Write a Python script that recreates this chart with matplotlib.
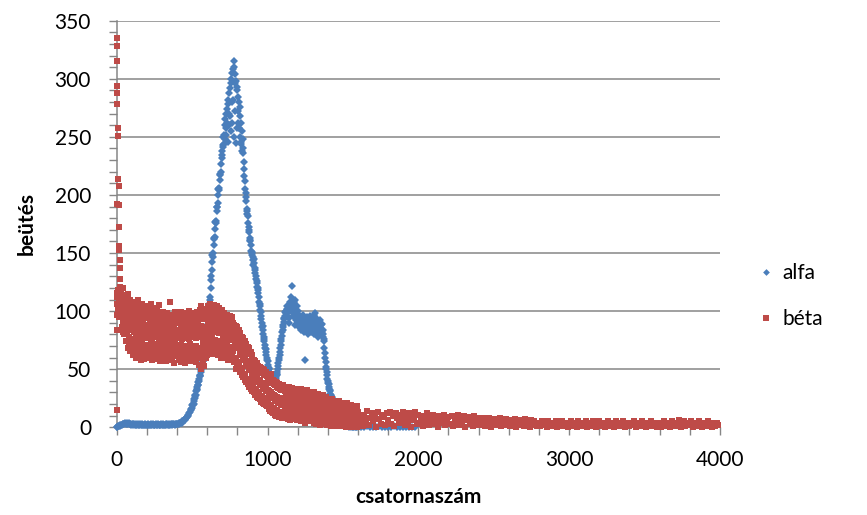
import matplotlib
matplotlib.use("Agg")
import matplotlib.pyplot as plt
import numpy as np
from matplotlib.ticker import MultipleLocator

# alfa counts, channels 0..1595 in steps of 5 (one row = 100 channels)
ALFA_FINE = [
    0, 0, 1, 1, 1, 2, 2, 2, 3, 3, 3, 4, 3, 4, 3, 3, 4, 3, 3, 2,
    3, 2, 3, 3, 2, 3, 2, 2, 3, 2, 2, 3, 2, 2, 3, 2, 2, 2, 3, 2,
    2, 3, 2, 2, 2, 3, 2, 2, 3, 2, 2, 2, 3, 2, 2, 3, 2, 2, 2, 3,
    2, 2, 3, 2, 2, 3, 2, 3, 2, 2, 3, 2, 3, 3, 2, 3, 3, 2, 3, 3,
    3, 3, 4, 3, 4, 4, 5, 4, 5, 6, 6, 7, 8, 9, 10, 11, 12, 13, 15, 16,
    17, 20, 20, 24, 27, 28, 32, 35, 36, 40, 44, 45, 49, 53, 54, 57, 61, 63, 69, 74,
    80, 89, 94, 106, 112, 127, 135, 148, 150, 162, 164, 177, 178, 190, 193, 205, 206, 218, 220, 232,
    238, 241, 252, 248, 265, 258, 274, 246, 282, 270, 292, 255, 300, 280, 308, 315, 250, 304, 245, 293,
    290, 262, 280, 250, 268, 244, 255, 240, 236, 222, 212, 198, 195, 184, 182, 172, 168, 160, 157, 148,
    151, 144, 145, 137, 135, 128, 124, 120, 118, 108, 104, 99, 93, 86, 84, 78, 74, 68, 65, 60,
    57, 52, 50, 47, 46, 43, 44, 40, 41, 38, 40, 42, 45, 48, 53, 58, 62, 68, 74, 79,
    84, 88, 93, 96, 100, 98, 104, 95, 102, 90, 106, 112, 100, 122, 96, 108, 88, 110, 94, 104,
    92, 100, 86, 96, 84, 94, 88, 97, 82, 92, 58, 90, 84, 95, 80, 90, 86, 96, 82, 93,
    86, 97, 80, 98, 88, 84, 93, 78, 90, 85, 92, 80, 89, 84, 78, 74, 64, 56, 50, 45,
    40, 37, 33, 31, 28, 26, 24, 22, 20, 16, 13, 11, 9, 7, 6, 5, 4, 3, 3, 2,
    2, 2, 1, 2, 1, 1, 1, 1, 0, 1, 1, 0, 1, 0, 0, 1, 0, 0, 1, 0,
]
# alfa counts in between, channels 502..1497 in steps of 5 (the busy part)
ALFA_BETWEEN = [
    19, 19, 23, 25, 28, 31, 33, 36, 39, 42, 44, 48, 50, 54, 57, 59, 62, 67, 72, 78,
    85, 92, 100, 110, 120, 130, 142, 147, 157, 163, 171, 176, 186, 190, 200, 204, 213, 217, 227, 234,
    243, 250, 244, 260, 252, 270, 262, 278, 260, 288, 268, 296, 262, 305, 282, 310, 296, 272, 298, 258,
    284, 272, 258, 276, 246, 262, 238, 248, 228, 216, 205, 202, 188, 186, 176, 170, 163, 161, 152, 150,
    147, 140, 141, 133, 130, 126, 121, 116, 112, 106, 101, 96, 90, 87, 80, 76, 71, 67, 62, 58,
    54, 51, 48, 47, 44, 42, 41, 39, 39, 39, 41, 43, 46, 50, 55, 60, 65, 71, 76, 82,
    86, 91, 94, 99, 96, 102, 98, 101, 94, 100, 108, 104, 106, 100, 104, 96, 104, 92, 100, 96,
    97, 90, 92, 88, 90, 86, 94, 86, 90, 84, 88, 85, 92, 86, 88, 84, 92, 86, 90, 88,
    92, 86, 94, 90, 82, 90, 84, 88, 82, 90, 84, 88, 82, 80, 76, 68, 60, 52, 48, 42,
    38, 35, 32, 29, 27, 25, 23, 21, 18, 14, 12, 10, 8, 6, 5, 4, 3, 3, 2, 2,
]
# alfa counts, channels 1600..1980 in steps of 20
ALFA_TAIL = [1, 0, 0, 1, 0, 0, 0, 1, 0, 0, 0, 0, 1, 0, 0, 0, 0, 0, 0, 0]

# béta: the very first channels, far above the rest
BETA_SPIKE_CH = [2, 3, 4, 2, 5, 4, 6, 8, 10, 12, 1, 14, 15, 16, 18, 19, 20, 22, 23, 25, 27, 0, 1]
BETA_SPIKE = [335, 328, 315, 294, 288, 278, 258, 251, 214, 208, 192, 191, 172, 156, 153,
              144, 137, 128, 121, 117, 105, 84, 15]

# béta counts, channels 0..1595 in steps of 5, read as three strips of the
# scatter band: upper (A, ch 0,5,..), middle (B, ch 2,7,..), lower (C, ch 4,9,..)
BETA_A = [
    116, 112, 118, 110, 114, 108, 118, 106, 114, 120, 104, 110, 112, 102, 108, 115, 98, 106, 110, 100,
    104, 98, 108, 100, 96, 106, 102, 95, 110, 99, 103, 94, 100, 97, 106, 92, 98, 104, 95, 101,
    100, 94, 104, 97, 92, 99, 106, 95, 101, 93, 98, 103, 91, 96, 100, 94, 105, 92, 98, 97,
    96, 92, 99, 94, 90, 97, 93, 98, 91, 95, 89, 108, 94, 97, 92, 96, 90, 99, 93, 95,
    94, 97, 90, 96, 92, 99, 89, 95, 93, 98, 91, 96, 90, 94, 97, 92, 100, 89, 95, 93,
    95, 92, 98, 94, 90, 97, 93, 99, 91, 96, 101, 95, 104, 98, 93, 100, 96, 102, 94, 99,
    100, 104, 97, 102, 106, 99, 103, 96, 101, 105, 98, 102, 95, 104, 100, 97, 103, 99, 94, 101,
    96, 92, 98, 90, 95, 93, 97, 91, 94, 89, 96, 92, 88, 95, 90, 86, 88, 84, 87, 83,
    86, 82, 84, 79, 81, 76, 78, 74, 77, 72, 74, 70, 72, 67, 69, 65, 68, 63, 65, 62,
    60, 56, 58, 54, 57, 52, 55, 50, 53, 49, 52, 48, 51, 47, 50, 46, 49, 45, 48, 44,
    44, 40, 43, 38, 42, 46, 39, 41, 37, 40, 36, 39, 35, 38, 34, 37, 33, 36, 32, 35,
    36, 32, 35, 31, 34, 30, 33, 29, 35, 31, 32, 28, 34, 30, 31, 27, 33, 29, 30, 28,
    32, 28, 31, 27, 30, 33, 26, 29, 31, 27, 30, 25, 29, 32, 26, 28, 30, 25, 29, 27,
    29, 26, 30, 25, 28, 27, 24, 29, 26, 28, 25, 27, 23, 26, 28, 24, 25, 22, 26, 23,
    24, 21, 23, 20, 22, 19, 24, 21, 20, 23, 19, 22, 20, 18, 21, 23, 19, 20, 18, 21,
    20, 17, 19, 16, 18, 21, 15, 19, 17, 18, 16, 19, 15, 17, 18, 14, 17, 16, 15, 18,
]
BETA_B = [
    106, 102, 109, 104, 100, 107, 96, 104, 92, 100, 98, 94, 92, 86, 96, 90, 84, 94, 88, 91,
    86, 90, 82, 88, 84, 79, 91, 85, 80, 87, 83, 89, 78, 86, 81, 90, 84, 77, 88, 82,
    84, 88, 79, 86, 82, 90, 77, 85, 81, 87, 83, 78, 89, 80, 86, 84, 76, 88, 82, 85,
    82, 78, 85, 80, 86, 77, 83, 79, 84, 81, 76, 85, 80, 82, 78, 87, 81, 75, 83, 79,
    80, 84, 77, 82, 79, 86, 76, 83, 81, 78, 85, 80, 77, 84, 79, 82, 76, 86, 80, 83,
    81, 78, 85, 79, 83, 77, 86, 80, 82, 78, 84, 79, 87, 81, 76, 85, 80, 83, 78, 86,
    86, 90, 83, 88, 85, 92, 80, 87, 84, 89, 82, 91, 86, 83, 88, 81, 90, 85, 87, 82,
    82, 79, 85, 77, 83, 80, 86, 78, 81, 84, 76, 82, 79, 75, 83, 78, 74, 72, 76, 70,
    72, 68, 70, 65, 67, 62, 64, 60, 62, 58, 60, 56, 57, 53, 55, 51, 53, 49, 50, 47,
    48, 44, 46, 42, 45, 40, 43, 39, 41, 37, 40, 36, 38, 35, 37, 33, 36, 32, 34, 31,
    32, 28, 31, 26, 30, 27, 29, 25, 28, 24, 27, 23, 26, 22, 25, 21, 24, 20, 23, 19,
    25, 22, 24, 20, 23, 26, 21, 24, 19, 22, 25, 20, 23, 18, 22, 24, 19, 21, 17, 20,
    21, 18, 23, 17, 20, 22, 16, 19, 21, 15, 20, 18, 22, 16, 19, 21, 15, 18, 20, 17,
    18, 15, 20, 14, 17, 19, 13, 16, 18, 12, 17, 15, 19, 13, 16, 14, 18, 12, 15, 14,
    14, 11, 15, 10, 13, 16, 9, 12, 14, 11, 13, 10, 15, 9, 12, 14, 10, 13, 11, 12,
    11, 9, 12, 8, 10, 13, 7, 11, 9, 12, 8, 10, 13, 7, 11, 9, 12, 8, 10, 11,
]
BETA_C = [
    97, 99, 95, 100, 96, 98, 86, 82, 88, 80, 90, 84, 74, 80, 68, 78, 72, 66, 76, 70,
    68, 62, 72, 65, 70, 60, 74, 64, 69, 63, 71, 58, 66, 73, 61, 67, 59, 70, 64, 68,
    66, 71, 60, 68, 63, 73, 58, 65, 70, 62, 67, 72, 59, 64, 69, 61, 74, 57, 66, 63,
    64, 70, 60, 67, 57, 72, 63, 68, 58, 66, 71, 62, 65, 59, 69, 55, 64, 70, 61, 67,
    62, 68, 58, 65, 71, 56, 64, 69, 60, 66, 55, 63, 70, 59, 67, 61, 72, 57, 65, 62,
    63, 58, 67, 61, 70, 56, 64, 60, 68, 54, 62, 50, 66, 58, 71, 53, 64, 60, 68, 62,
    70, 66, 74, 64, 72, 68, 76, 63, 71, 67, 75, 65, 73, 69, 62, 72, 66, 74, 60, 68,
    66, 62, 70, 60, 68, 64, 72, 58, 65, 69, 61, 67, 63, 59, 66, 56, 60, 50, 57, 53,
    56, 50, 54, 48, 51, 45, 49, 43, 46, 41, 44, 39, 42, 37, 40, 35, 38, 33, 36, 31,
    34, 30, 33, 28, 31, 26, 30, 25, 28, 24, 27, 22, 26, 21, 25, 20, 24, 19, 23, 18,
    20, 16, 19, 14, 18, 13, 17, 12, 16, 11, 15, 10, 14, 12, 13, 9, 12, 10, 11, 8,
    12, 9, 14, 8, 11, 15, 7, 13, 10, 6, 12, 9, 14, 8, 11, 7, 13, 10, 6, 12,
    10, 6, 12, 5, 9, 11, 7, 13, 8, 4, 10, 6, 12, 7, 9, 5, 11, 8, 6, 10,
    8, 4, 10, 3, 7, 9, 5, 11, 6, 2, 8, 5, 9, 3, 7, 4, 10, 6, 2, 8,
    5, 2, 7, 1, 4, 6, 3, 8, 2, 5, 1, 6, 3, 7, 2, 4, 1, 5, 3, 6,
    4, 1, 5, 0, 3, 6, 2, 4, 1, 5, 0, 3, 6, 2, 4, 1, 5, 3, 0, 2,
]
# béta counts, channels 1600..3990 in steps of 10 (one row = 200 channels)
BETA_TAIL = [
    13, 4, 9, 1, 11, 6, 14, 2, 8, 12, 5, 10, 0, 13, 7, 3, 11, 9, 2, 12,
    6, 13, 3, 10, 1, 12, 8, 4, 11, 7, 13, 2, 9, 5, 12, 0, 10, 6, 13, 3,
    11, 4, 8, 1, 10, 6, 12, 2, 9, 5, 11, 3, 7, 0, 10, 4, 8, 11, 2, 6,
    9, 3, 10, 1, 7, 5, 11, 2, 8, 4, 10, 0, 6, 9, 3, 7, 1, 10, 5, 8,
    2, 7, 4, 8, 1, 6, 3, 8, 0, 5, 7, 2, 6, 4, 8, 1, 5, 3, 7, 2,
    6, 1, 5, 3, 7, 0, 4, 6, 2, 5, 1, 7, 3, 4, 0, 6, 2, 5, 3, 1,
    4, 1, 5, 2, 3, 0, 5, 2, 4, 1, 3, 5, 0, 4, 2, 5, 1, 3, 4, 0,
    3, 5, 1, 4, 2, 0, 5, 3, 1, 4, 2, 5, 0, 3, 4, 1, 5, 2, 0, 3,
    5, 1, 3, 4, 0, 2, 5, 1, 4, 3, 0, 5, 2, 4, 1, 3, 5, 0, 2, 4,
    1, 4, 2, 5, 0, 3, 4, 1, 5, 2, 3, 0, 4, 2, 5, 1, 3, 4, 0, 2,
    4, 0, 3, 5, 1, 2, 4, 0, 5, 3, 1, 4, 2, 6, 0, 3, 5, 1, 2, 4,
    2, 5, 0, 3, 4, 1, 5, 2, 0, 4, 3, 1, 5, 2, 4, 0, 3, 1, 4, 2,
]

X_MAX = 4000
Y_MAX = 350
ALFA_COLOR = "#4A7EBB"
BETA_COLOR = "#BE4B48"
AXIS_GRAY = "#868686"


def channels(start: int, step: int, n: int) -> np.ndarray:
    return start + step * np.arange(n)


def main() -> None:
    plt.rcParams["font.family"] = ["Lato", "DejaVu Sans"]

    alfa_x = np.concatenate([channels(0, 5, len(ALFA_FINE)),
                             channels(502, 5, len(ALFA_BETWEEN)),
                             channels(1600, 20, len(ALFA_TAIL))])
    alfa_y = np.array(ALFA_FINE + ALFA_BETWEEN + ALFA_TAIL, dtype=float)

    beta_x = np.concatenate([np.array(BETA_SPIKE_CH),
                             channels(0, 5, len(BETA_A)),
                             channels(2, 5, len(BETA_B)),
                             channels(4, 5, len(BETA_C)),
                             channels(1600, 10, len(BETA_TAIL))])
    beta_y = np.array(BETA_SPIKE + BETA_A + BETA_B + BETA_C + BETA_TAIL, dtype=float)

    fig = plt.figure(figsize=(8.67, 5.15), dpi=100)
    ax = fig.add_axes([0.1346, 0.1703, 0.6958, 0.7895])

    ax.plot(alfa_x, alfa_y, linestyle="none", marker="D", markersize=3.8,
            markeredgewidth=0, color=ALFA_COLOR, label="alfa", clip_on=False, zorder=3)
    ax.plot(beta_x, beta_y, linestyle="none", marker="s", markersize=4.9,
            markeredgewidth=0, color=BETA_COLOR, label="béta", clip_on=False, zorder=4)

    ax.set_xlim(0, X_MAX)
    ax.set_ylim(0, Y_MAX)
    ax.xaxis.set_major_locator(MultipleLocator(1000))
    ax.xaxis.set_minor_locator(MultipleLocator(200))
    ax.yaxis.set_major_locator(MultipleLocator(50))
    ax.yaxis.set_minor_locator(MultipleLocator(10))

    ax.set_axisbelow(True)
    ax.grid(axis="y", which="major", color=AXIS_GRAY, linewidth=1.1)
    for side in ("top", "right"):
        ax.spines[side].set_visible(False)
    for side in ("left", "bottom"):
        ax.spines[side].set_color(AXIS_GRAY)
        ax.spines[side].set_linewidth(1.1)

    ax.tick_params(axis="both", which="both", direction="out", color=AXIS_GRAY,
                   width=1.0, labelsize=15, labelcolor="black")
    ax.tick_params(axis="x", which="both", length=5.5, pad=11)
    ax.tick_params(axis="y", which="both", length=5.5, pad=13)

    ax.set_xlabel("csatornaszám", fontsize=15, fontweight="bold")
    ax.set_ylabel("beütés", fontsize=15, fontweight="bold")
    ax.xaxis.set_label_coords(0.5, -0.148)
    ax.yaxis.set_label_coords(-0.132, 0.5)

    ax.legend(loc="center left", bbox_to_anchor=(1.035, 0.323), frameon=False,
              fontsize=15, labelspacing=1.25, handlelength=0.6, handletextpad=0.5,
              markerscale=0.9)

    fig.savefig("out.png", dpi=100)
    plt.close(fig)


if __name__ == "__main__":
    main()
